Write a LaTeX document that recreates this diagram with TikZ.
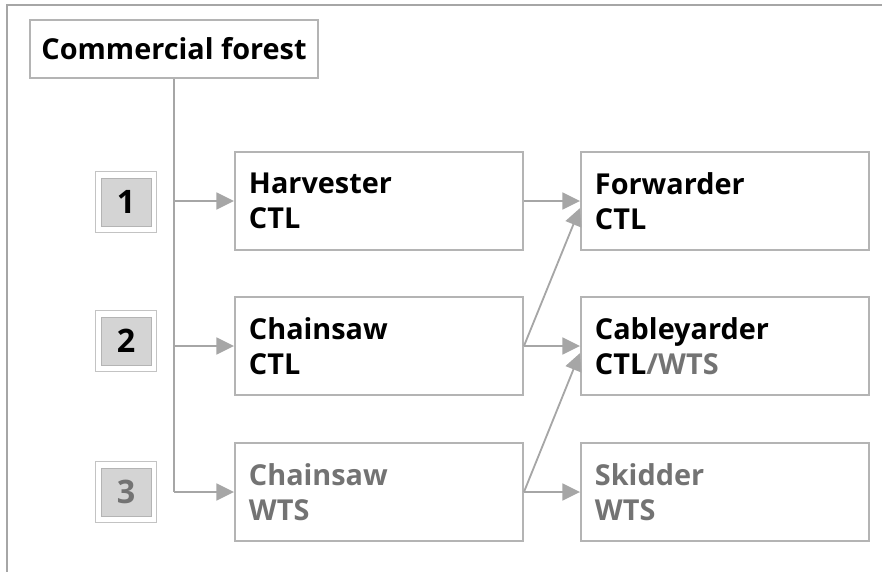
\documentclass[tikz,border=0pt]{standalone}
\usepackage{fontspec}
\setsansfont{Open Sans}
\usetikzlibrary{arrows.meta,positioning}
\definecolor{fgline}{HTML}{A6A6A6}
\definecolor{fgbox}{HTML}{B4B4B4}
\definecolor{fgtext}{HTML}{737373}
\definecolor{fgfill}{HTML}{D4D4D4}

\begin{document}
\begin{tikzpicture}[
  x=0.025cm, y=-0.025cm,
  stage/.style={
    draw=fgbox, line width=1.3pt, fill=white,
    font=\sffamily\bfseries\fontsize{20.5}{25}\selectfont,
    align=left, text width=6.5cm, inner xsep=0.35cm,
    minimum width=7.2cm, minimum height=2.45cm
  },
  numout/.style={draw=fgbox!80, line width=0.9pt, fill=white,
    minimum width=1.52cm, minimum height=1.52cm},
  numin/.style={draw=fgbox, line width=0.5pt, fill=fgfill,
    minimum width=1.25cm, minimum height=1.2cm, inner sep=0pt,
    font=\sffamily\bfseries\fontsize{23}{26}\selectfont},
  arrow/.style={-{Triangle[length=12.5pt, width=12pt]}, fgline, line width=1.3pt},
]
  \useasboundingbox (0,0) rectangle (882,572);

  % outer frame (only top and left edges show)
  \draw[fgline, line width=1.3pt] (7,572) -- (7,5) -- (882,5);

  % root
  \node[draw=fgbox, line width=1.3pt, fill=white,
    font=\sffamily\bfseries\fontsize{20.5}{25}\selectfont,
    minimum width=7.2cm, minimum height=1.45cm] (forest) at (174,49) {Commercial forest};

  % felling
  \node[stage] (harv) at (379,201) {Harvester\\CTL};
  \node[stage] (sawctl) at (379,346) {Chainsaw\\CTL};
  \node[stage, text=fgtext] (sawwts) at (379,492) {Chainsaw\\WTS};

  % extraction
  \node[stage] (fwd) at (725,201) {Forwarder\\CTL};
  \node[stage] (cable) at (725,346) {Cableyarder\\CTL\textcolor{fgtext}{/WTS}};
  \node[stage, text=fgtext] (skid) at (725,492) {Skidder\\WTS};

  % system numbers
  \foreach \n/\y/\c in {1/202/black, 2/341/black, 3/492/fgtext} {
    \node[numout] (outer\n) at (126,\y) {};
    \node[numin, text=\c] (num\n) at (outer\n) {\n};
  }

  % trunk and branches
  \coordinate (trunk) at (forest.south -| 174,0);
  \coordinate (b3) at (174,492);
  \draw[fgline, line width=1.3pt] (trunk) -- (b3);
  \draw[arrow] (harv.west -| b3) -- (harv.west);
  \draw[arrow] (sawctl.west -| b3) -- (sawctl.west);
  \draw[arrow] (b3) -- (sawwts.west);

  % to extraction
  \draw[arrow] (harv.east) -- (fwd.west);
  \draw[arrow] (sawctl.east) -- ([yshift=-5pt]fwd.west);
  \draw[arrow] (sawctl.east) -- (cable.west);
  \draw[arrow] (sawwts.east) -- ([yshift=-5pt]cable.west);
  \draw[arrow] (sawwts.east) -- (skid.west);
\end{tikzpicture}
\end{document}
